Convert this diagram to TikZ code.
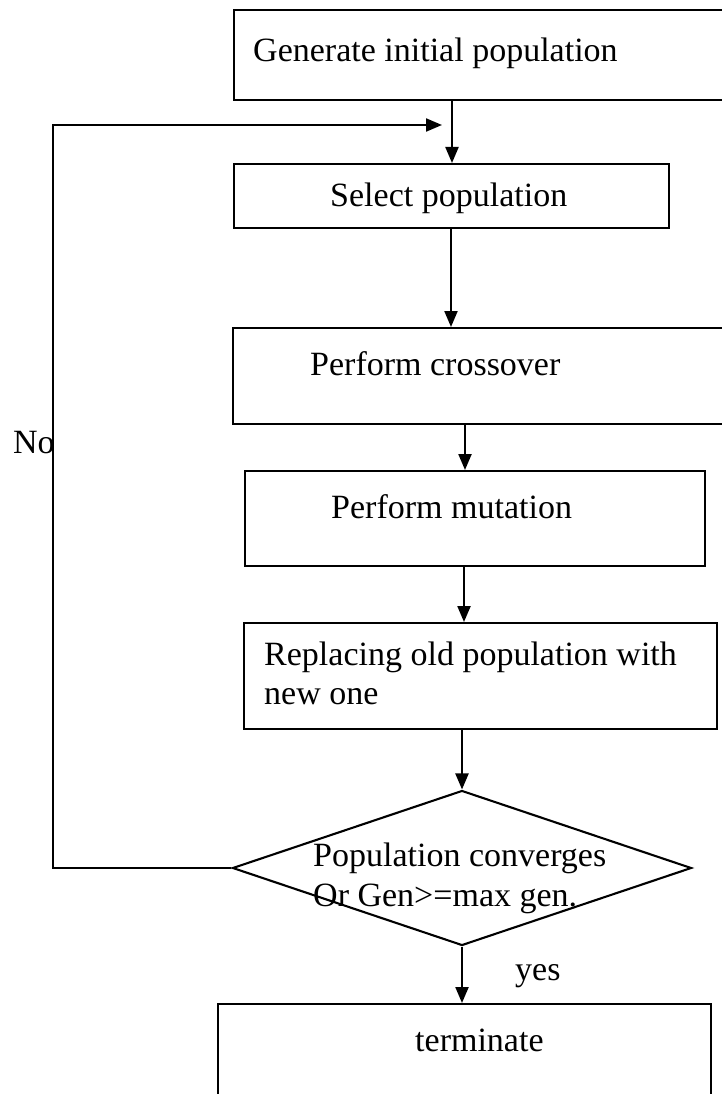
\documentclass[tikz,border=0pt]{standalone}
\usepackage{fontspec}
\setmainfont{Liberation Serif}
\usetikzlibrary{arrows.meta,shapes.geometric}
\begin{document}
\begin{tikzpicture}[x=1pt,y=-1pt,
  box/.style={draw,line width=2.4pt,rectangle,inner sep=0pt,anchor=north west},
  decision/.style={draw,diamond,line width=2.1pt,inner sep=0pt},
  lbl/.style={anchor=base west,inner sep=0pt,font=\fontsize{34}{41}\selectfont},
  flow/.style={line width=2.2pt,-{Triangle[length=16pt,width=13pt]}}]
\useasboundingbox (0,0) rectangle (722,1094);
\clip (0,0) rectangle (722,1094);

% process boxes
\node[box,minimum width=527pt,minimum height=90pt]  (b1) at (233,9)    {};
\node[box,minimum width=435pt,minimum height=64pt]  (b2) at (233,163)  {};
\node[box,minimum width=528pt,minimum height=96pt]  (b3) at (232,327)  {};
\node[box,minimum width=460pt,minimum height=95pt]  (b4) at (244,470)  {};
\node[box,minimum width=473pt,minimum height=106pt] (b5) at (243,622)  {};
\node[decision,minimum width=459pt,minimum height=155pt] (d) at (462,868) {};
\node[box,minimum width=493pt,minimum height=100pt] (b6) at (217,1003) {};

% texts
\node[lbl] (t1)  at (253,62)   {Generate initial population};
\node[lbl] (t2)  at (330,207)  {Select population};
\node[lbl] (t3)  at (310,375)  {Perform crossover};
\node[lbl] (t4)  at (331,518)  {Perform mutation};
\node[lbl] (t5)  at (264,665)  {Replacing old population with};
\node[lbl] (t5b) at (264,704)  {new one};
\node[lbl] (t6)  at (313,866)  {Population converges};
\node[lbl] (t6b) at (313,906)  {Or Gen>=max gen.};
\node[lbl] (yes) at (515,980)  {yes};
\node[lbl] (t7)  at (415,1051) {terminate};
\node[lbl] (no)  at (13,453)   {No};

% columns of the vertical connectors
\coordinate (x1) at (452,0);
\coordinate (x2) at (451,0);
\coordinate (x3) at (465,0);
\coordinate (x4) at (464,0);
\coordinate (x5) at (463,0);
\coordinate (corner) at (53,125);
\coordinate (entry) at (442,125);

\draw[flow] (b1.south -| x1) -- (b2.north -| x1);
\draw[flow] (b2.south -| x2) -- (b3.north -| x2);
\draw[flow] (b3.south -| x3) -- (b4.north -| x3);
\draw[flow] (b4.south -| x4) -- (b5.north -| x4);
\draw[flow] (b5.south -| d.north) -- (d.north);
\draw[flow] (d.south) -- (b6.north -| d.south);

% "No" branch back to the selection step
\draw[flow] (d.west) -| (corner) -- (entry);
\end{tikzpicture}
\end{document}
